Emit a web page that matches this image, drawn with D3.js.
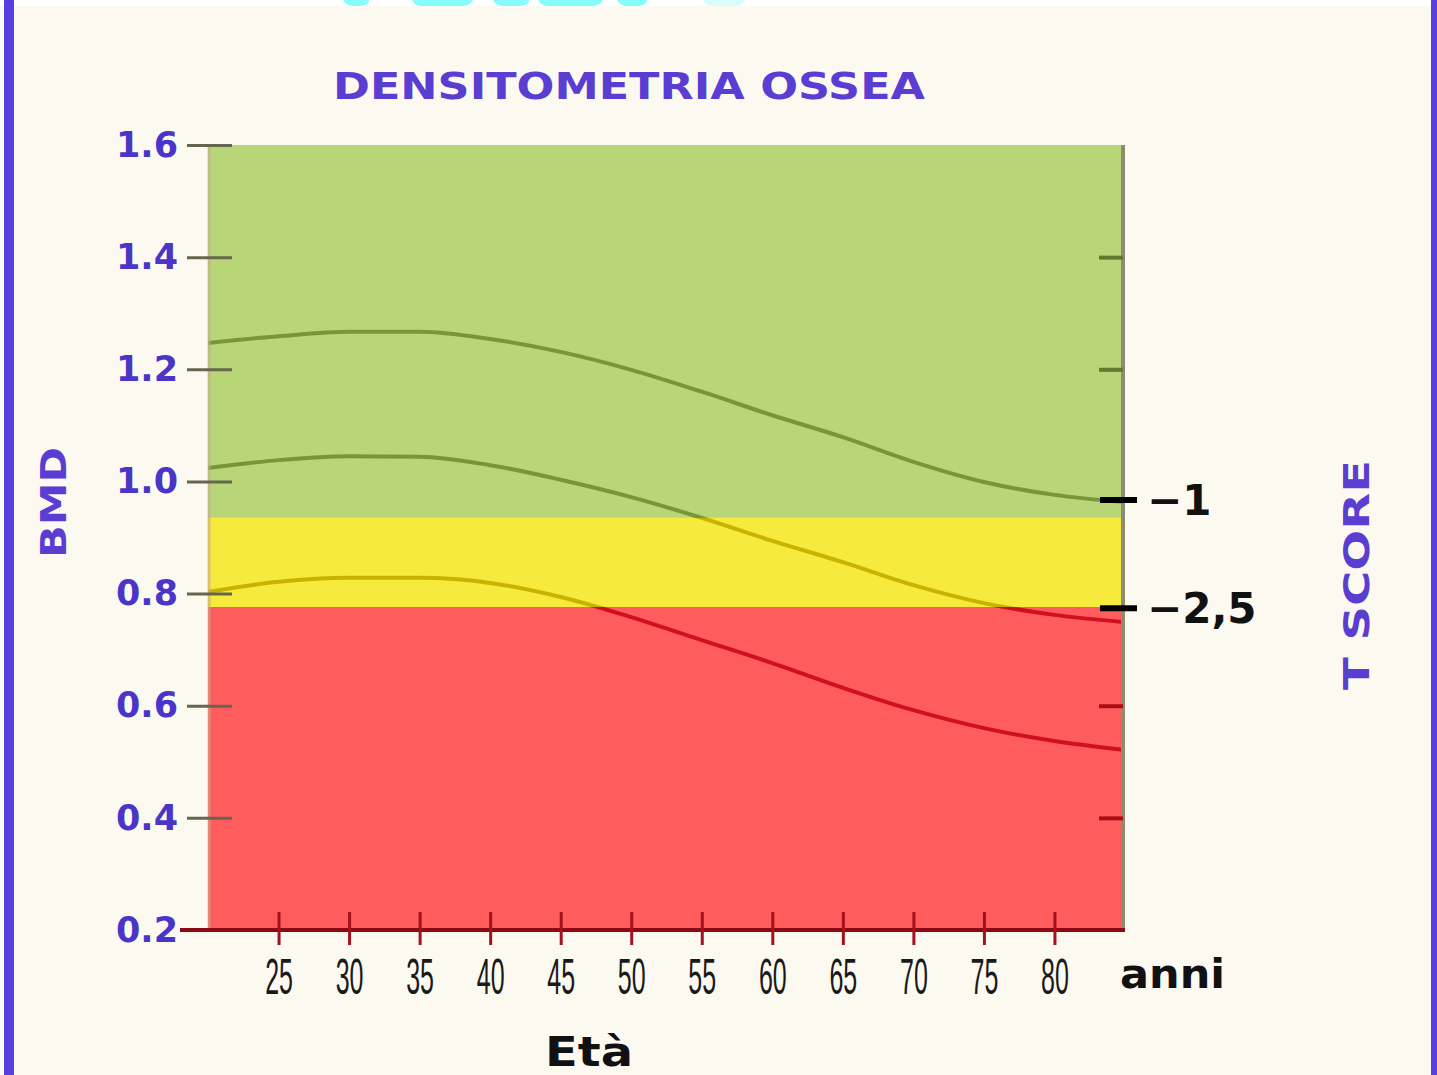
<!DOCTYPE html>
<html>
<head>
<meta charset="utf-8">
<script src="https://cdn.jsdelivr.net/npm/d3@7"></script>
<style>
  body { margin: 0; background: #fcf9f1; }
  svg { display: block; }
</style>
</head>
<body>
<div id="chart"></div>
<script>
// ages along the x axis
const ages = [20, 25, 30, 35, 40, 45, 50, 55, 60, 65, 70, 75, 80, 85]
const ageTicks = [25, 30, 35, 40, 45, 50, 55, 60, 65, 70, 75, 80]

// BMD reference curves
const upperCurve = [1.247, 1.259, 1.267, 1.267, 1.254, 1.231, 1.199, 1.160, 1.118, 1.079, 1.035, 0.999, 0.976, 0.963]
const middleCurve = [1.024, 1.038, 1.045, 1.044, 1.029, 1.003, 0.972, 0.935, 0.894, 0.856, 0.815, 0.783, 0.762, 0.749]
const lowerCurve = [0.803, 0.821, 0.828, 0.828, 0.819, 0.794, 0.758, 0.717, 0.676, 0.632, 0.592, 0.560, 0.537, 0.521]

// BMD axis
const bmdTicks = [0.2, 0.4, 0.6, 0.8, 1.0, 1.2, 1.4, 1.6]
const rightTicks = [0.4, 0.6, 1.2, 1.4]

// coloured zones: normal / osteopenia / osteoporosis
const bandTop = [1.6, 0.935, 0.776]
const bandBottom = [0.935, 0.776, 0.2]
const bandFill = ["#b8d577", "#f6ea3c", "#ff5c5e"]
const bandLine = ["#77963a", "#c9b300", "#d0101e"]

// T-score marks on the right
const tLabels = ["\u22121", "\u22122,5"]
const tBmd = [0.967, 0.774]

const W = 1437, H = 1075

const svg = d3.select("#chart").append("svg")
    .attr("width", W)
    .attr("height", H)

// background and page frame
svg.append("rect").attr("width", W).attr("height", H).attr("fill", "#fcf9f1")
svg.append("rect").attr("width", W).attr("height", 6).attr("fill", "#ffffff")
const cyanBits = [[343, 27], [412, 61], [493, 37], [538, 65], [617, 31], [703, 42]]
svg.append("g").selectAll("rect").data(cyanBits).enter().append("rect")
    .attr("x", d => d[0]).attr("y", -10).attr("width", d => d[1]).attr("height", 16)
    .attr("rx", 10).attr("fill", (d, i) => i == 5 ? "#d8fbfb" : "#86fcfc")
svg.append("rect").attr("x", 4).attr("y", 0).attr("width", 10).attr("height", H).attr("fill", "#5a3fe0")
svg.append("rect").attr("x", 1431).attr("y", 0).attr("width", 6).attr("height", H).attr("fill", "#5a3fe0")

// scales
const xScale = d3.scaleLinear().domain([20, 85]).range([208, 1125])
const yScale = d3.scaleLinear().domain([0.2, 1.6]).range([930, 145])

// zones
const bands = bandTop.map((t, i) => ({ top: t, bottom: bandBottom[i], fill: bandFill[i], line: bandLine[i] }))

svg.append("g").selectAll("rect")
    .data(bands).enter().append("rect")
    .attr("x", xScale(20))
    .attr("y", d => yScale(d.top))
    .attr("width", xScale(85) - xScale(20))
    .attr("height", d => yScale(d.bottom) - yScale(d.top))
    .attr("fill", d => d.fill)

// clip paths so every curve takes the darker colour of the zone it crosses
const defs = svg.append("defs")
bands.forEach((b, i) => {
    defs.append("clipPath").attr("id", "band" + i)
        .append("rect")
        .attr("x", xScale(20))
        .attr("y", yScale(b.top))
        .attr("width", xScale(85) - xScale(20))
        .attr("height", yScale(b.bottom) - yScale(b.top))
})

const line = d3.line()
    .x((d, i) => xScale(ages[i]))
    .y(d => yScale(d))
    .curve(d3.curveMonotoneX)

const curves = [upperCurve, middleCurve, lowerCurve]
bands.forEach((b, i) => {
    svg.append("g")
        .attr("clip-path", `url(#band${i})`)
        .selectAll("path")
        .data(curves).enter().append("path")
        .attr("d", line)
        .attr("fill", "none")
        .attr("stroke", b.line)
        .attr("stroke-width", 4)
})

// plot edges
svg.append("line")
    .attr("x1", xScale(20) + 1).attr("x2", xScale(20) + 1)
    .attr("y1", yScale(1.6)).attr("y2", yScale(0.2))
    .attr("stroke", "#c9a98f").attr("stroke-width", 3).attr("opacity", 0.6)
svg.append("line")
    .attr("x1", xScale(85) - 2).attr("x2", xScale(85) - 2)
    .attr("y1", yScale(1.6)).attr("y2", yScale(0.2))
    .attr("stroke", "#8e8c70").attr("stroke-width", 4)

// left BMD axis
const yAxis = d3.axisLeft(yScale)
    .tickValues(bmdTicks)
    .tickFormat(d3.format(".1f"))
    .tickSize(45)
    .tickPadding(9)

const yAxisG = svg.append("g")
    .attr("transform", `translate(${xScale(20) + 24},0)`)
    .call(yAxis)
yAxisG.select(".domain").remove()
yAxisG.selectAll(".tick line").attr("stroke", "#66664e").attr("stroke-width", 3)
yAxisG.selectAll(".tick text")
    .attr("fill", "#4b35c9")
    .attr("font-family", "DejaVu Sans")
    .attr("font-weight", "bold")
    .attr("font-size", 35)

// right side inner ticks
const bandOf = v => bands.find(b => v <= b.top && v >= b.bottom)
const rAxis = d3.axisLeft(yScale).tickValues(rightTicks).tickSize(24).tickFormat("")
const rAxisG = svg.append("g")
    .attr("transform", `translate(${xScale(85) - 2},0)`)
    .call(rAxis)
rAxisG.select(".domain").remove()
rAxisG.selectAll(".tick line")
    .attr("stroke", d => d3.color(bandOf(d).line).darker(0.6))
    .attr("stroke-width", 4)

// T-score marks
const marks = svg.append("g").selectAll("g")
    .data(tLabels).enter().append("g")
    .attr("transform", (d, i) => `translate(0,${yScale(tBmd[i])})`)
marks.append("line")
    .attr("x1", xScale(85) - 25).attr("x2", xScale(85) + 12)
    .attr("stroke", "#000").attr("stroke-width", 6)
marks.append("text")
    .attr("x", xScale(85) + 22)
    .attr("dy", "0.36em")
    .attr("font-family", "DejaVu Sans")
    .attr("font-weight", "bold")
    .attr("font-size", 42)
    .attr("fill", "#111")
    .text(d => d)

// bottom age axis
svg.append("line")
    .attr("x1", 180).attr("x2", xScale(85))
    .attr("y1", yScale(0.2)).attr("y2", yScale(0.2))
    .attr("stroke", "#8c0a14").attr("stroke-width", 4)

const xAxis = d3.axisBottom(xScale)
    .tickValues(ageTicks)
    .tickFormat(d => d)
    .tickSize(33)
    .tickPadding(14)

const xAxisG = svg.append("g")
    .attr("transform", `translate(0,${yScale(0.2) - 18})`)
    .call(xAxis)
xAxisG.select(".domain").remove()
xAxisG.selectAll(".tick line").attr("stroke", "#a3111c").attr("stroke-width", 3)
xAxisG.selectAll(".tick text")
    .attr("fill", "#1a1a1a")
    .attr("font-family", "Liberation Sans")
    .attr("font-size", 50)
    .attr("transform", "scale(0.5,1)")

// titles
svg.append("text")
    .attr("x", 333).attr("y", 99)
    .attr("textLength", 592).attr("lengthAdjust", "spacingAndGlyphs")
    .attr("font-family", "DejaVu Sans").attr("font-weight", "bold").attr("font-size", 38)
    .attr("fill", "#5a3ed2")
    .text("DENSITOMETRIA OSSEA")

svg.append("text")
    .attr("transform", "translate(66,558) rotate(-90)")
    .attr("textLength", 111).attr("lengthAdjust", "spacingAndGlyphs")
    .attr("font-family", "DejaVu Sans").attr("font-weight", "bold").attr("font-size", 36)
    .attr("fill", "#5a3ed2")
    .text("BMD")

svg.append("text")
    .attr("transform", "translate(1369,690) rotate(-90)")
    .attr("textLength", 230).attr("lengthAdjust", "spacingAndGlyphs")
    .attr("font-family", "DejaVu Sans").attr("font-weight", "bold").attr("font-size", 36)
    .attr("fill", "#5a3ed2")
    .text("T SCORE")

svg.append("text")
    .attr("x", 1120).attr("y", 988)
    .attr("textLength", 105).attr("lengthAdjust", "spacingAndGlyphs")
    .attr("font-family", "DejaVu Sans").attr("font-weight", "bold").attr("font-size", 40)
    .attr("fill", "#111")
    .text("anni")

svg.append("text")
    .attr("x", 545).attr("y", 1066)
    .attr("textLength", 88).attr("lengthAdjust", "spacingAndGlyphs")
    .attr("font-family", "DejaVu Sans").attr("font-weight", "bold").attr("font-size", 40)
    .attr("fill", "#111")
    .text("Età")
</script>
</body>
</html>
